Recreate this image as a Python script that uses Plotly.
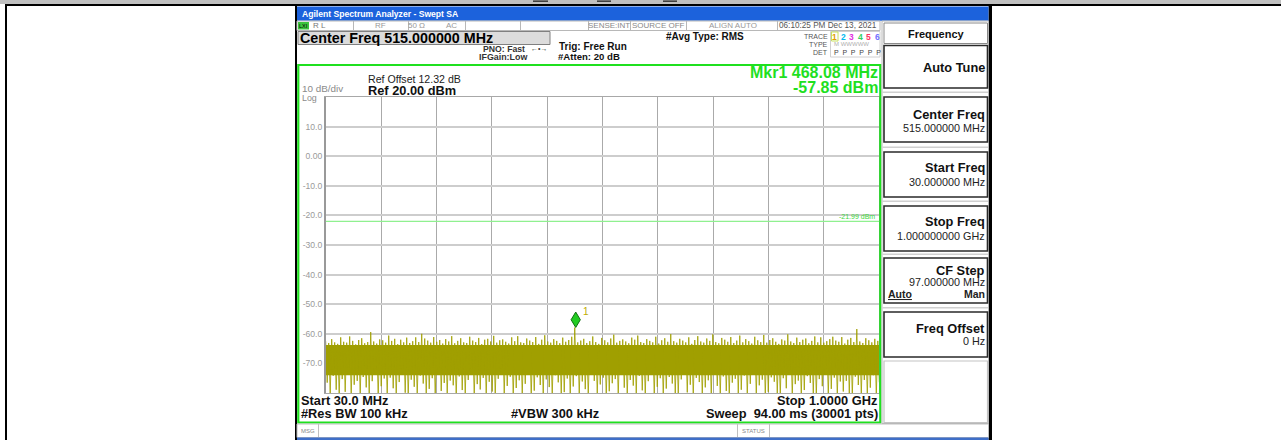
import plotly.graph_objects as go

W, H = 1281, 440
FONT = "Liberation Sans, Arial, sans-serif"

# ---------------- data ----------------
start_freq_mhz = 30.0
stop_freq_mhz = 1000.0
ref_level_dbm = 20.0
bottom_level_dbm = -80.0
y_tick_values = [10, 0, -10, -20, -30, -40, -50, -60, -70]
y_tick_labels = ["10.0", "0.00", "-10.0", "-20.0", "-30.0", "-40.0", "-50.0", "-60.0", "-70.0"]
display_line_dbm = -21.99
display_line_label = "-21.99 dBm"
marker_freq_mhz = 468.08
marker_level_dbm = -57.85
marker_readout = ["Mkr1 468.08 MHz", "-57.85 dBm"]

# per-column peak / trough of the noise trace
trace_peaks_dbm = [
    -62.5, -63.1, -61.8, -62.9, -63.4, -61.2, -62.7, -63.0, -60.9, -62.4, -63.6, -62.1, -61.5, -63.2, -62.8, -59.4, -62.6, -63.3, -61.9, -62.2,
    -63.0, -60.6, -62.4, -61.7, -63.5, -62.0, -62.9, -61.3, -63.1, -62.5, -61.2, -62.8, -60.0, -61.6, -62.3, -63.0, -61.1, -62.7, -62.1, -63.3,
    -61.8, -62.6, -60.8, -63.2, -62.4, -61.5, -62.9, -63.1, -61.0, -62.3, -62.8, -61.4, -63.5, -62.0, -61.7, -62.6, -60.7, -63.0, -62.2, -61.9,
    -62.7, -63.3, -61.2, -62.5, -60.8, -62.9, -63.1, -61.6, -62.3, -62.8, -61.1, -63.4, -62.0, -60.5, -62.6, -63.0, -61.8, -62.4, -63.2, -61.3,
    -62.7, -62.1, -61.0, -57.9, -62.9, -62.3, -61.7, -63.1, -62.5, -60.9, -62.8, -63.4, -61.4, -62.2, -62.9, -61.6, -60.3, -63.0, -62.4, -61.9,
    -62.6, -63.2, -61.3, -62.0, -60.6, -62.8, -63.1, -61.8, -62.4, -62.9, -61.0, -63.3, -62.2, -61.5, -62.7, -60.1, -62.5, -63.0, -61.7, -62.3,
    -62.9, -61.2, -63.4, -62.1, -60.8, -62.6, -63.0, -61.6, -62.4, -60.2, -62.8, -63.2, -61.4, -62.0, -62.7, -61.1, -63.1, -62.3, -60.6, -62.9,
    -61.8, -62.5, -63.3, -61.0, -62.2, -62.8, -60.4, -63.0, -62.1, -61.5, -62.7, -63.4, -61.9, -62.3, -60.2, -62.6, -63.1, -61.3, -62.8, -62.0,
    -61.6, -63.2, -62.4, -60.9, -62.9, -61.2, -63.0, -62.5, -61.8, -61.0, -62.3, -62.7, -61.1, -63.3, -62.0, -61.4, -62.8, -58.4, -62.6, -63.1,
    -61.5, -62.2, -62.9, -61.7, -62.4,
]
trace_troughs_dbm = [
    -76.5, -80.5, -74.2, -78.9, -81.0, -75.3, -79.6, -73.8, -80.8, -77.2, -75.9, -81.0, -74.6, -78.1, -80.3, -76.0, -73.9, -81.0, -77.7, -75.1,
    -80.6, -74.8, -78.4, -81.0, -76.3, -73.6, -79.9, -80.9, -75.5, -77.9, -81.0, -74.1, -76.8, -80.2, -78.6, -75.0, -81.0, -73.7, -79.3, -76.6,
    -80.7, -75.8, -77.4, -81.0, -74.4, -79.0, -80.4, -75.6, -73.5, -81.0, -77.0, -78.8, -74.9, -80.9, -76.2, -79.5, -81.0, -75.2, -73.9, -80.1,
    -77.6, -74.5, -81.0, -78.3, -75.7, -80.5, -76.9, -73.8, -81.0, -79.2, -74.7, -77.3, -80.8, -75.4, -78.0, -81.0, -74.0, -76.4, -80.3, -79.7,
    -75.1, -81.0, -77.8, -74.3, -80.6, -76.1, -78.7, -81.0, -73.6, -75.9, -80.2, -77.1, -74.8, -81.0, -79.4, -76.7, -75.3, -80.9, -73.7, -78.2,
    -81.0, -75.6, -77.5, -80.4, -74.2, -79.1, -81.0, -76.0, -73.9, -80.7, -77.9, -75.0, -81.0, -78.5, -74.6, -76.8, -80.1, -81.0, -75.4, -73.8,
    -79.8, -77.2, -81.0, -74.9, -76.3, -80.5, -78.1, -75.7, -81.0, -73.5, -77.6, -80.8, -74.4, -79.3, -81.0, -76.5, -75.2, -80.0, -78.9, -74.1,
    -81.0, -76.9, -73.7, -80.6, -77.4, -75.5, -81.0, -79.6, -74.7, -76.2, -80.3, -81.0, -75.0, -78.4, -73.9, -80.9, -77.0, -75.8, -81.0, -79.0,
    -74.3, -76.6, -80.4, -81.0, -75.3, -77.7, -73.6, -80.7, -78.6, -74.8, -81.0, -76.1, -79.5, -75.9, -80.2, -81.0, -74.5, -77.3, -80.6, -75.6,
    -81.0, -78.2, -74.0, -80.8, -76.4,
]
# dense core of the noise band
noise_core_freq_mhz = [30.0, 1000.0]
noise_core_top_dbm = [-63.8, -63.8]
noise_core_bottom_dbm = [-74.0, -74.0]

softkey_titles = ["Center Freq", "Start Freq", "Stop Freq", "CF Step", "Freq Offset"]
softkey_values = ["515.000000 MHz", "30.000000 MHz", "1.000000000 GHz", "97.000000 MHz", "0 Hz"]

# ---------------- helpers ----------------
OLIVE = "#a09f00"
GREEN = "#1fe01f"
shapes = []
annotations = []


def px(x):
    return x / W


def py(y):
    return 1 - y / H


def rect(x0, y0, x1, y1, fill=None, line=None, lw=1):
    shapes.append(dict(
        type="rect", xref="paper", yref="paper",
        x0=px(x0), x1=px(x1), y0=py(y1), y1=py(y0),
        fillcolor=fill if fill else "rgba(0,0,0,0)",
        line=dict(color=line if line else "rgba(0,0,0,0)", width=lw if line else 0),
    ))


def text(x, y, s, size, color="#000000", bold=False, anchor="left"):
    annotations.append(dict(
        xref="paper", yref="paper", x=px(x), y=py(y),
        text=f"<b>{s}</b>" if bold else s, showarrow=False,
        xanchor=anchor, yanchor="middle", borderpad=0,
        font=dict(size=size, color=color, family=FONT),
    ))


# ---------------- page frame ----------------
rect(0, 0, W, 4, fill="#c0c0c0")
rect(5, 4, W, 6, fill="#000000")
rect(5, 4, 7, H, fill="#000000")
for ux0, ux1 in [(533, 548), (597, 611), (663, 677)]:
    rect(ux0, 0.5, ux1, 1.8, fill="#202020")
rect(295, 6, 297, H, fill="#000000")
rect(988.5, 6, 992, H, fill="#000000")

# ---------------- instrument chrome ----------------
rect(297, 6.5, 988.5, 20.7, fill="#1c62dc")
text(301, 14, "Agilent Spectrum Analyzer - Swept SA", 8.6, "#ffffff", bold=True)

# status row
rect(297, 21, 880, 30.5, fill="#ffffff", line="#b8b8b8", lw=1)
for sx in [353, 408, 465, 520, 588, 630, 686, 777]:
    rect(sx, 21, sx + 1, 30.5, fill="#b8b8b8")
rect(298, 22, 309, 29.5, fill="#3cc43c")
text(303.5, 25.8, "LXI", 5.5, "#000000", anchor="center")
text(312, 26, "R L", 8, "#777777")
text(380, 26, "RF", 8, "#999999", anchor="center")
text(416, 26, "50 Ω", 8, "#999999", anchor="center")
text(451, 26, "AC", 8, "#999999", anchor="center")
text(609, 26, "SENSE:INT", 8, "#888888", anchor="center")
text(658, 26, "SOURCE OFF", 8, "#888888", anchor="center")
text(733, 26, "ALIGN AUTO", 8, "#999999", anchor="center")
text(828, 26, "06:10:25 PM Dec 13, 2021", 8.2, "#555555", anchor="center")

# center freq box
rect(298, 31.5, 550, 44.5, fill="#dcdcdc", line="#808080", lw=1)
text(299, 38, "Center Freq 515.000000 MHz", 14.3, "#000000", bold=True)
text(526, 48.5, "PNO: Fast", 8.7, "#333333", bold=True, anchor="right")
text(539, 48.5, "←•→", 7, "#333333", anchor="center")
text(528, 57.5, "IFGain:Low", 8.9, "#333333", bold=True, anchor="right")
text(558, 46.5, "Trig: Free Run", 10, "#111111", bold=True)
text(557, 56.5, "#Atten: 20 dB", 9.6, "#111111", bold=True)
text(665, 36.5, "#Avg Type: RMS", 10, "#111111", bold=True)

# trace indicator block
rect(830.5, 31.5, 880, 57, line="#d0d0d0", lw=1)
text(829, 36.5, "TRACE", 7, "#555555", anchor="right")
text(829, 44.5, "TYPE", 7, "#555555", anchor="right")
text(829, 52.5, "DET", 7, "#555555", anchor="right")
rect(831.5, 32, 838, 41, line="#c8e060", lw=1)
for i, (d, c) in enumerate(zip("123456", ["#e0a000", "#00b8f0", "#e030e0", "#30d060", "#ff3060", "#7070ff"])):
    text(835 + i * 8.4, 36.5, d, 8.5, c, bold=True, anchor="center")
text(833, 44.5, "M WWWWW", 6, "#b0b0b0")
text(833, 52.5, "P  P  P  P  P  P", 7, "#444444")

# plot frame (green)
rect(298.3, 65, 880.3, 422.5, line=GREEN, lw=2.2)
text(878.5, 72.5, marker_readout[0], 16, GREEN, bold=True, anchor="right")
text(878.5, 87.5, marker_readout[1], 16, GREEN, bold=True, anchor="right")
text(367, 79, "Ref Offset 12.32 dB", 10.6, "#222222")
text(367, 90, "Ref 20.00 dBm", 12.8, "#111111", bold=True)
text(300.5, 88.6, "10 dB/div", 9.9, "#8a8a8a")
text(300.5, 97.6, "Log", 8.9, "#8a8a8a")

# bottom annotations
text(300, 400.5, "Start 30.0 MHz", 12.8, "#111111", bold=True)
text(300, 413.5, "#Res BW 100 kHz", 12.8, "#111111", bold=True)
text(510, 413.5, "#VBW 300 kHz", 12.8, "#111111", bold=True)
text(877.5, 400.5, "Stop 1.0000 GHz", 12.8, "#111111", bold=True, anchor="right")
text(878.5, 413.5, "Sweep  94.00 ms (30001 pts)", 12.8, "#111111", bold=True, anchor="right")

# message bar
rect(297, 424, 988.5, 437.5, fill="#ffffff", line="#c0c0c0", lw=1)
rect(318, 424, 319, 437.5, fill="#c0c0c0")
rect(737, 424, 738, 437.5, fill="#c0c0c0")
rect(769, 424, 770, 437.5, fill="#c0c0c0")
text(300, 431, "MSG", 6, "#888888")
text(753.5, 431, "STATUS", 6, "#888888", anchor="center")
rect(297, 437.5, 988.5, H, fill="#3f6fc8")

# right softkey panel
rect(882, 21, 988.5, 423.5, line="#b8b8b8", lw=1)
rect(884, 23, 987.5, 43.5, line="#8a8a8a", lw=1)
text(936, 33.5, "Frequency", 11, "#111111", bold=True, anchor="center")
rect(884, 45.5, 987.5, 88, line="#2a2a2a", lw=1.6)
text(986, 67, "Auto Tune", 12.8, "#111111", bold=True, anchor="right")
key_tops = [97, 152, 206, 258, 312]
title_dy = [17.5, 15, 15, 12.5, 16]
value_dy = [31, 30, 30, 24, 29]
for top in [91.5, 146.5, 200.5, 253.5, 307]:
    rect(882.5, top, 988, top + 1.5, fill="#d0d0d0")
for k, top in enumerate(key_tops):
    rect(884, top, 987.5, top + 45, line="#2a2a2a", lw=1.6)
    text(986, top + title_dy[k], softkey_titles[k], 12.8, "#111111", bold=True, anchor="right")
    text(986, top + value_dy[k], softkey_values[k], 10.8, "#222222", anchor="right")
text(886.5, 293.5, "<u>Auto</u>", 10.5, "#222222", bold=True)
text(986, 293.5, "Man", 10.5, "#222222", bold=True, anchor="right")
rect(884, 361, 987.5, 422.5, line="#c4c4c4", lw=1.2)

# ---------------- traces ----------------
n = len(trace_peaks_dbm)
step = (stop_freq_mhz - start_freq_mhz) / (n - 0.5)
zx, zy = [], []
for i in range(n):
    f = start_freq_mhz + i * step
    zx += [f, f + step / 2]
    zy += [trace_peaks_dbm[i], trace_troughs_dbm[i]]

fig = go.Figure()
fig.add_trace(go.Scatter(x=noise_core_freq_mhz, y=noise_core_bottom_dbm, mode="lines",
                         line=dict(width=0, color=OLIVE), hoverinfo="skip", showlegend=False))
fig.add_trace(go.Scatter(x=noise_core_freq_mhz, y=noise_core_top_dbm, mode="lines", fill="tonexty",
                         fillcolor=OLIVE, line=dict(width=0, color=OLIVE), hoverinfo="skip", showlegend=False))
fig.add_trace(go.Scatter(x=zx, y=zy, mode="lines", line=dict(color=OLIVE, width=0.85),
                         hoverinfo="skip", showlegend=False))

# display line
shapes.append(dict(type="line", xref="x", yref="y", x0=start_freq_mhz, x1=stop_freq_mhz,
                   y0=display_line_dbm, y1=display_line_dbm, line=dict(color="#90f090", width=1.3)))
annotations.append(dict(xref="x", yref="y", x=stop_freq_mhz, y=display_line_dbm, text=display_line_label,
                        showarrow=False, xanchor="right", yanchor="bottom", xshift=-2, yshift=-1,
                        font=dict(size=7, color="#40d840", family=FONT)))

# marker diamond (bottom tip at the marker point)
half_w = 8.1
dh = 5.2
mf, ml = marker_freq_mhz, marker_level_dbm
shapes.append(dict(type="path", xref="x", yref="y",
                   path=f"M {mf},{ml} L {mf + half_w},{ml + dh / 2} L {mf},{ml + dh} L {mf - half_w},{ml + dh / 2} Z",
                   fillcolor="#22cc22", line=dict(color="#107010", width=1)))
annotations.append(dict(xref="x", yref="y", x=mf, y=ml + dh, text="1", showarrow=False,
                        xanchor="left", yanchor="middle", xshift=5, yshift=1,
                        font=dict(size=10, color="#c0ac00", family=FONT)))

fig.update_layout(
    width=W, height=H, margin=dict(l=0, r=0, t=0, b=0),
    paper_bgcolor="#ffffff", plot_bgcolor="#ffffff", showlegend=False,
    font=dict(family=FONT),
    xaxis=dict(domain=[px(325.7), px(879.3)], range=[start_freq_mhz, stop_freq_mhz],
               tick0=start_freq_mhz, dtick=(stop_freq_mhz - start_freq_mhz) / 10,
               showgrid=True, gridcolor="#aaaaaa", gridwidth=1, showticklabels=False, ticks="",
               zeroline=False, showline=True, linecolor="#a8a8a8", linewidth=1, mirror=True, fixedrange=True),
    yaxis=dict(domain=[py(393), py(97)], range=[bottom_level_dbm, ref_level_dbm],
               tickmode="array", tickvals=y_tick_values, ticktext=y_tick_labels,
               showgrid=True, gridcolor="#cdcdcd", gridwidth=1.6, zeroline=False,
               showline=True, linecolor="#999999", linewidth=1.5, mirror=True, ticks="",
               tickfont=dict(size=8.6, color="#9a9a9a", family=FONT), fixedrange=True),
    shapes=shapes, annotations=annotations,
)

fig.write_html("out.html", config={"displayModeBar": False},
               post_script="document.body.style.margin='0';document.body.style.overflow='hidden';")
